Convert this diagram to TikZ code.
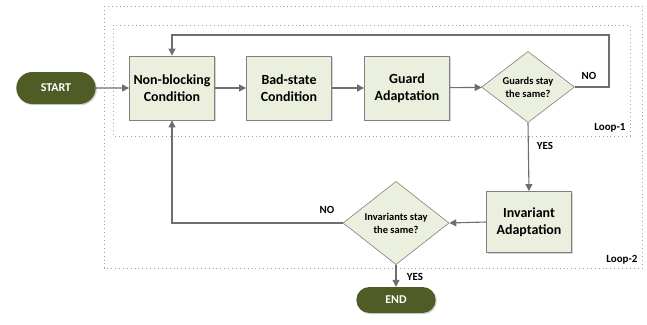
\documentclass[tikz,border=0pt]{standalone}
\usepackage{fontspec}
\setmainfont{Carlito}
\usetikzlibrary{shapes.geometric,shapes.misc,arrows.meta,shadows}
\definecolor{olive}{RGB}{79,92,38}
\definecolor{boxfill}{RGB}{235,240,222}
\definecolor{boxline}{RGB}{128,128,128}
\definecolor{arrowc}{RGB}{110,110,110}
\definecolor{dotc}{RGB}{160,160,160}
\begin{document}
\begin{tikzpicture}[x=1bp,y=-1bp,
  every node/.style={font=\bfseries},
  procbox/.style={draw=boxline,line width=0.8bp,fill=boxfill,minimum width=85bp,minimum height=64bp,align=center,font=\bfseries\fontsize{14}{17}\selectfont,drop shadow={shadow xshift=1.2bp,shadow yshift=-1.2bp,opacity=0.35}},
  decide/.style={diamond,draw=boxline,line width=0.6bp,fill=boxfill,inner sep=0pt,align=center,font=\bfseries\fontsize{10.5}{13}\selectfont},
  term/.style={rounded rectangle,fill=olive,text=white,minimum width=86bp,minimum height=32bp,font=\bfseries\fontsize{12}{14}\selectfont,drop shadow={shadow xshift=1.2bp,shadow yshift=-1.2bp,opacity=0.35}},
  conn/.style={draw=arrowc,line width=1.1bp,-{Triangle[length=7bp,width=7bp]}},
  lbl/.style={font=\bfseries\fontsize{11}{13}\selectfont},
  loopbox/.style={draw=dotc,line width=0.9bp,dash pattern=on 0.9bp off 3bp}
]
\useasboundingbox (0,0) rectangle (647,324);
\draw[loopbox] (104,6) rectangle (642,268);
\draw[loopbox] (113,25) rectangle (630,136);
\node[lbl,anchor=south east] (l1) at (629,136) {Loop-1};
\node[lbl,anchor=south east] (l2) at (641,268) {Loop-2};

\node[term] (start) at (56,88) {START};
\node[procbox] (nb) at (172,88) {Non-blocking\\Condition};
\node[procbox] (bs) at (289,88) {Bad-state\\Condition};
\node[procbox] (ga) at (407,88) {Guard\\Adaptation};
\node[decide,minimum width=93bp,minimum height=68bp] (gd) at (528,87) {Guards stay\\the same?};
\node[procbox,minimum height=61bp] (ia) at (529,222) {Invariant\\Adaptation};
\node[decide,minimum width=106bp,minimum height=79bp] (id) at (396,223) {Invariants stay\\the same?};
\node[term,minimum height=26bp] (en) at (396,300) {END};

\coordinate (c1) at (609,35);
\draw[conn] (start) -- (nb);
\draw[conn] (nb) -- (bs);
\draw[conn] (bs) -- (ga);
\draw[conn] (ga) -- (gd);
\draw[conn] (gd.east) -- (gd.east -| c1) -- (c1) -- (c1 -| nb.north) -- (nb.north);
\node[lbl] (no1) at (589,76) {NO};
\draw[conn] (gd.south) -- (ia.north);
\node[lbl] (yes1) at (545,146) {YES};
\draw[conn] (ia.west) -- (id.east);
\draw[conn] (id.west) -- (id.west -| nb.south) -- (nb.south);
\node[lbl] (no2) at (327,210) {NO};
\draw[conn] (id.south) -- (en.north);
\node[lbl] (yes2) at (415,277) {YES};
\end{tikzpicture}
\end{document}
